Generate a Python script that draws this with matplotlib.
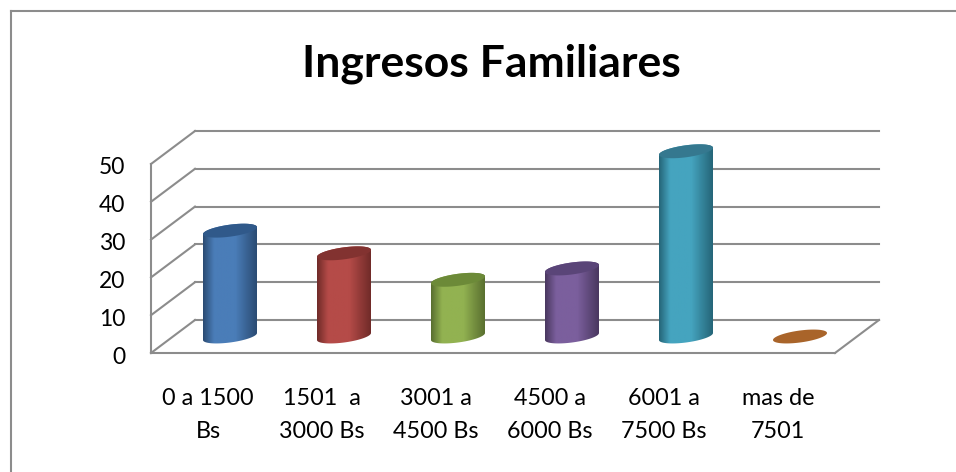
import numpy as np
import matplotlib
matplotlib.use('Agg')
import matplotlib.pyplot as plt
from matplotlib.colors import LinearSegmentedColormap
from matplotlib.lines import Line2D
from matplotlib.patches import Polygon
from matplotlib.transforms import ScaledTranslation

# Data
categories = ['0 a 1500\nBs', '1501  a\n3000 Bs', '3001 a\n4500 Bs',
              '4500 a\n6000 Bs', '6001 a\n7500 Bs', 'mas de\n7501']
values = [28, 22, 15, 18, 49, 0]
y_ticks = [0, 10, 20, 30, 40, 50]

# Cylinder colours: edge, middle, cap
edge_colors = ['#2b4c74', '#712b29', '#5a7030', '#4a3860', '#256679', '#8a5020']
mid_colors = ['#4a7db8', '#b54b48', '#92b251', '#7b5f9d', '#45a4bf', '#c07a30']
cap_colors = ['#30598a', '#823230', '#6c8a38', '#5a4578', '#35788f', '#a9642a']

W, H = 956, 472
GRID = '#8c8c8c'

plt.rcParams['font.family'] = ['Lato', 'DejaVu Sans']

fig = plt.figure(figsize=(W / 100, H / 100), dpi=100)

# Only the top and left of the chart border are inside the image
fig.add_artist(Line2D([11 / W, 11 / W], [0, 1 - 11 / H], color=GRID, lw=1.5))
fig.add_artist(Line2D([11 / W, 1], [1 - 11 / H, 1 - 11 / H], color=GRID, lw=1.5))

# Axes cover the front face of the 3D box
ax = fig.add_axes([151 / W, 1 - 353 / H, 684 / W, 189 / H])
ax.set_xlim(0, len(categories))
ax.set_ylim(0, 50)
for s in ax.spines.values():
    s.set_visible(False)
ax.patch.set_visible(False)

# size of one pixel in data units, and depth of the box
px = 6 / 684
py = 50 / 189
dx = 44 * px
dy = 33 * py

# Walls and floor
line = dict(color=GRID, lw=1.5, clip_on=False, zorder=1, solid_capstyle='projecting')
for t in y_ticks:
    ax.plot([0, dx], [t, t + dy], **line)
    ax.plot([dx, 6 + dx], [t + dy, t + dy], **line)
ax.plot([0, 0], [0, 50], **line)
ax.plot([0, 6], [0, 0], **line)
ax.plot([6, 6 + dx], [0, dy], **line)

# Cylinders
a, b, k = 27 * px, 6 * py, 3.5 * py
t = np.linspace(0, 2 * np.pi, 121)
for i, v in enumerate(values):
    cx = i + 0.5 + dx / 2
    cy = dy / 2
    cap_x = cx + a * np.cos(t)
    cap_y = cy + v + b * np.sin(t) + k * np.cos(t)
    if v > 0:
        # lower half of the base, then up and along the top
        low = np.linspace(np.pi, 2 * np.pi, 61)
        up = np.linspace(0, np.pi, 61)
        body_x = np.r_[cx + a * np.cos(low), cx + a * np.cos(up)]
        body_y = np.r_[cy + b * np.sin(low) + k * np.cos(low),
                       cy + v + b * np.sin(up) + k * np.cos(up)]
        cmap = LinearSegmentedColormap.from_list(
            'c', [(0, edge_colors[i]), (0.2, mid_colors[i]), (0.6, mid_colors[i]), (1, edge_colors[i])])
        clip = Polygon(np.c_[body_x, body_y], closed=True, transform=ax.transData, fc='none', ec='none')
        ax.add_patch(clip)
        im = ax.imshow(np.linspace(0, 1, 64)[None, :], cmap=cmap, aspect='auto', zorder=2,
                       extent=(cx - a, cx + a, cy - 3 * b, cy + v + 3 * b))
        im.set_clip_path(clip)
        im.set_clip_box(fig.bbox)
    ax.fill(cap_x, cap_y, color=cap_colors[i], lw=0, clip_on=False, zorder=3)
ax.set_xlim(0, len(categories))
ax.set_ylim(0, 50)

# Labels
ax.set_yticks(y_ticks)
ax.tick_params(axis='y', length=0, pad=18.5, labelsize=16.5, labelcolor='black')
shift = ScaledTranslation(0, -2 / 100, fig.dpi_scale_trans)
for lab in ax.get_yticklabels():
    lab.set_transform(lab.get_transform() + shift)
ax.set_xticks(np.arange(len(categories)) + 0.5)
ax.set_xticklabels(categories, linespacing=1.72)
ax.tick_params(axis='x', length=0, pad=25, labelsize=16.8, labelcolor='black')

fig.text(491 / W, 1 - 64 / H, 'Ingresos Familiares', ha='center', va='center',
         fontsize=32, fontweight='bold', color='black')

plt.savefig('out.png', dpi=100)
